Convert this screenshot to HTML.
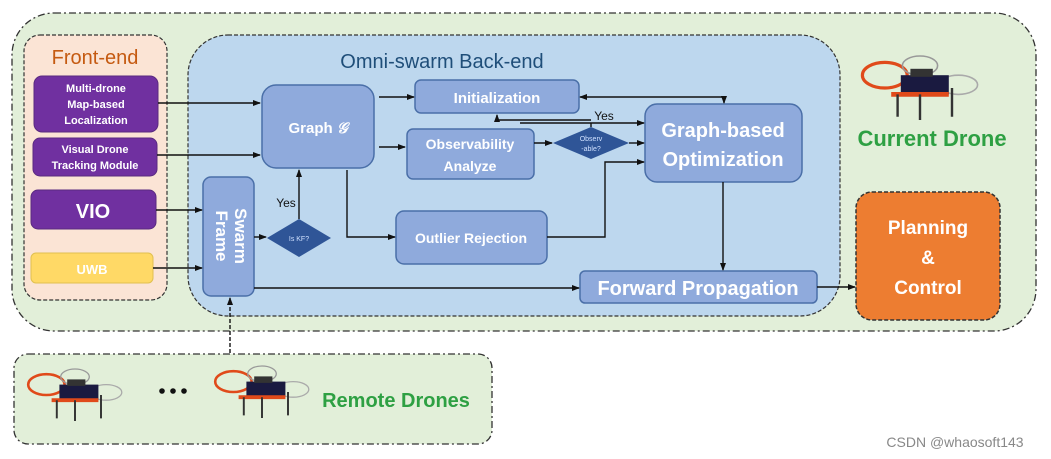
<!DOCTYPE html>
<html><head><meta charset="utf-8"><style>
html,body{margin:0;padding:0;background:#fff;}
svg{display:block;font-family:"Liberation Sans",sans-serif;}
.w{fill:#fff;font-weight:bold;text-anchor:middle;}
</style></head><body>
<svg width="1051" height="459" viewBox="0 0 1051 459" xmlns="http://www.w3.org/2000/svg">
<defs>
<marker id="a" markerWidth="8" markerHeight="8" refX="7" refY="4" orient="auto" markerUnits="userSpaceOnUse"><path d="M0,1 L8,4 L0,7 z" fill="#111"/></marker>
<marker id="as" markerWidth="8" markerHeight="8" refX="1" refY="4" orient="auto" markerUnits="userSpaceOnUse"><path d="M8,1 L0,4 L8,7 z" fill="#111"/></marker>
<g id="drone">
<ellipse cx="-22" cy="-8" rx="14" ry="8" fill="none" stroke="#e04a1a" stroke-width="2"/>
<ellipse cx="0" cy="-14" rx="11" ry="6" fill="none" stroke="#999" stroke-width="1"/>
<ellipse cx="24" cy="-2" rx="12" ry="6" fill="none" stroke="#aaa" stroke-width="1"/>
<rect x="-12" y="-8" width="30" height="12" fill="#1a1a40"/>
<rect x="-6" y="-12" width="14" height="5" fill="#333"/>
<path d="M-18,4 L18,4" stroke="#e04a1a" stroke-width="3"/>
<path d="M-14,4 V18 M0,4 V20 M20,0 V18" stroke="#333" stroke-width="1.5"/>
</g>
</defs>

<rect x="12" y="13" width="1024" height="318" rx="42" fill="#e2efd9" stroke="#333" stroke-width="1.3" stroke-dasharray="7,3,2,3"/>
<rect x="24" y="35" width="143" height="265" rx="16" fill="#fbe4d5" stroke="#333" stroke-width="1.2" stroke-dasharray="4,2"/>
<text x="95" y="64" font-size="20" fill="#c55a11" text-anchor="middle">Front-end</text>
<rect x="188" y="35" width="652" height="281" rx="40" fill="#bdd7ee" stroke="#333" stroke-width="1.2" stroke-dasharray="4,2"/>
<text x="442" y="68" font-size="20" fill="#1f4e79" text-anchor="middle">Omni-swarm Back-end</text>

<rect x="34" y="76" width="124" height="56" rx="8" fill="#7030a0" stroke="#5a2a80"/>
<text class="w" font-size="11"><tspan x="96" y="92">Multi-drone</tspan><tspan x="96" y="108">Map-based</tspan><tspan x="96" y="124">Localization</tspan></text>
<rect x="33" y="138" width="124" height="38" rx="7" fill="#7030a0" stroke="#5a2a80"/>
<text class="w" font-size="11"><tspan x="95" y="153">Visual Drone</tspan><tspan x="95" y="169">Tracking Module</tspan></text>
<rect x="31" y="190" width="125" height="39" rx="7" fill="#7030a0" stroke="#5a2a80"/>
<text class="w" x="93" y="218" font-size="20">VIO</text>
<rect x="31" y="253" width="122" height="30" rx="5" fill="#ffd966" stroke="#e0c050"/>
<text class="w" x="92" y="274" font-size="13">UWB</text>

<g fill="#8faadc" stroke="#4a6fa8" stroke-width="1.5">
<rect x="203" y="177" width="51" height="119" rx="8"/>
<rect x="262" y="85" width="112" height="83" rx="14"/>
<rect x="415" y="80" width="164" height="33" rx="6"/>
<rect x="407" y="129" width="127" height="50" rx="6"/>
<rect x="396" y="211" width="151" height="53" rx="8"/>
<rect x="645" y="104" width="157" height="78" rx="12"/>
<rect x="580" y="271" width="237" height="32" rx="5"/>
</g>
<text class="w" font-size="17" transform="translate(229,236) rotate(90)"><tspan x="0" y="-6">Swarm</tspan><tspan x="0" y="13">Frame</tspan></text>
<text class="w" x="318" y="133" font-size="15">Graph <tspan font-style="italic" font-family="Liberation Serif">𝒢</tspan></text>
<text class="w" x="497" y="103" font-size="15">Initialization</text>
<text class="w" font-size="14"><tspan x="470" y="149">Observability</tspan><tspan x="470" y="171">Analyze</tspan></text>
<text class="w" x="471" y="243" font-size="14">Outlier Rejection</text>
<text class="w" font-size="20"><tspan x="723" y="137">Graph-based</tspan><tspan x="723" y="166">Optimization</tspan></text>
<text class="w" x="698" y="295" font-size="20">Forward Propagation</text>

<polygon points="553,143 591,127 629,143 591,159" fill="#2f5597"/>
<text fill="#cfe0ff" font-size="7" text-anchor="middle"><tspan x="591" y="141">Observ</tspan><tspan x="591" y="151">-able?</tspan></text>
<polygon points="267,238 299,219 331,238 299,257" fill="#2f5597"/>
<text x="299" y="241" fill="#cfe0ff" font-size="7" text-anchor="middle">Is KF?</text>

<rect x="856" y="192" width="144" height="128" rx="16" fill="#ed7d31" stroke="#333" stroke-width="1.5" stroke-dasharray="4,2"/>
<text class="w" font-size="19"><tspan x="928" y="234">Planning</tspan><tspan x="928" y="264">&amp;</tspan><tspan x="928" y="294">Control</tspan></text>

<text x="932" y="146" font-size="22" font-weight="bold" fill="#2ea043" text-anchor="middle">Current Drone</text>
<use href="#drone" transform="translate(920,88) scale(1.6)"/>

<g stroke="#111" stroke-width="1.4" fill="none">
<path d="M158,103 H260" marker-end="url(#a)"/>
<path d="M157,155 H260" marker-end="url(#a)"/>
<path d="M156,210 H202" marker-end="url(#a)"/>
<path d="M153,268 H202" marker-end="url(#a)"/>
<path d="M379,97 H414" marker-end="url(#a)"/>
<path d="M379,147 H405" marker-end="url(#a)"/>
<path d="M347,170 V237 H395" marker-end="url(#a)"/>
<path d="M254,237 H266" marker-end="url(#a)"/>
<path d="M299,219 V170" marker-end="url(#a)"/>
<path d="M534,143 H552" marker-end="url(#a)"/>
<path d="M629,143 H644" marker-end="url(#a)"/>
<path d="M591,127 V123 M520,123 H644" marker-end="url(#a)"/>
<path d="M591,120 H497 V115" marker-end="url(#a)"/>
<path d="M580,97 H724 V103" marker-start="url(#as)" marker-end="url(#a)"/>
<path d="M547,237 H605 V162 H644" marker-end="url(#a)"/>
<path d="M723,182 V270" marker-end="url(#a)"/>
<path d="M254,288 H579" marker-end="url(#a)"/>
<path d="M817,287 H855" marker-end="url(#a)"/>
<path d="M230,353 V298" stroke-dasharray="4,2" marker-end="url(#a)"/>
</g>
<text x="286" y="207" font-size="12" fill="#111" text-anchor="middle">Yes</text>
<text x="604" y="120" font-size="12" fill="#111" text-anchor="middle">Yes</text>

<rect x="14" y="354" width="478" height="90" rx="14" fill="#e2efd9" stroke="#333" stroke-width="1.3" stroke-dasharray="7,3,2,3"/>
<use href="#drone" transform="translate(75,395) scale(1.3)"/>
<use href="#drone" transform="translate(262,392) scale(1.3)"/>
<circle cx="162" cy="391" r="2.8" fill="#111"/><circle cx="173" cy="391" r="2.8" fill="#111"/><circle cx="184" cy="391" r="2.8" fill="#111"/>
<text x="396" y="407" font-size="20" font-weight="bold" fill="#2ea043" text-anchor="middle">Remote Drones</text>

<text x="955" y="447" font-size="14" fill="#888" text-anchor="middle">CSDN @whaosoft143</text>
</svg>
</body></html>
